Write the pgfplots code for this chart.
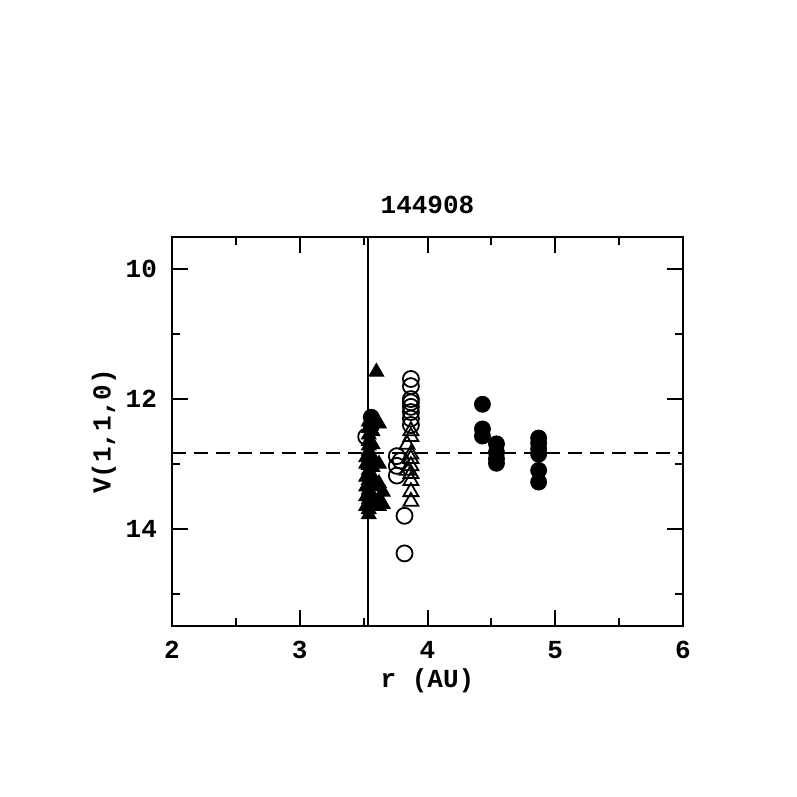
\documentclass[border=0pt]{standalone}
\usepackage{fontspec}
\setmainfont{Liberation Mono}
\usepackage{pgfplots}
\pgfplotsset{compat=1.18}
\begin{document}
\begin{tikzpicture}
\begin{axis}[
  at={(86pt,85.5pt)}, anchor=south west,
  scale only axis, width=255.5pt, height=194.5pt,
  xmin=2, xmax=6, ymin=9.5, ymax=15.5, y dir=reverse,
  xtick={2,3,4,5,6}, minor xtick={2.5,3.5,4.5,5.5},
  ytick={10,12,14}, minor ytick={11,13,15},
  tick align=inside, major tick length=8pt, minor tick length=4pt,
  xtick pos=both, ytick pos=both,
  axis line style={line width=1pt}, every tick/.style={line width=1pt, black},
  tick label style={font=\fontsize{13}{15}\selectfont\bfseries},
  /pgf/number format/assume math mode=true,
  xticklabel style={yshift=-4pt}, yticklabel style={xshift=-4pt},
  xlabel={\fontsize{13}{15}\selectfont\bfseries r (AU)},
  ylabel={\fontsize{13}{15}\selectfont\bfseries V(1,1,0)},
  title={\fontsize{13}{15}\selectfont\bfseries 144908},
  xlabel style={yshift=2pt}, ylabel style={yshift=-2pt},
  title style={yshift=2pt},
  clip=false,
]
% filled triangles
\addplot[only marks, mark=triangle*, mark size=4.3pt, mark options={fill=black, draw=black}] coordinates {
(3.60,11.58)
(3.54,12.35)(3.54,12.45)(3.54,12.55)(3.54,12.65)(3.54,12.72)(3.54,12.80)(3.54,12.88)(3.54,12.95)(3.54,13.02)(3.54,13.10)(3.54,13.18)(3.54,13.25)(3.54,13.32)(3.54,13.40)(3.54,13.48)(3.54,13.55)(3.54,13.62)(3.54,13.70)(3.54,13.78)
(3.52,12.90)(3.52,13.00)(3.52,13.20)(3.52,13.35)(3.52,13.50)(3.52,13.65)
(3.57,12.50)(3.57,12.70)(3.57,12.90)(3.57,13.05)(3.57,13.20)(3.57,13.35)(3.57,13.50)(3.57,13.62)
(3.62,12.38)(3.62,13.00)(3.62,13.30)(3.62,13.55)(3.62,13.65)
(3.65,13.43)(3.65,13.62)
};
% open triangles
\addplot[only marks, mark=triangle, mark size=4.3pt, mark options={draw=black, line width=0.9pt}] coordinates {
(3.87,12.49)(3.87,12.58)(3.87,12.85)(3.87,12.92)(3.87,13.03)(3.87,13.15)(3.87,13.26)(3.87,13.43)(3.87,13.58)
(3.84,12.70)(3.84,13.10)
};
% open circles
\addplot[only marks, mark=o, mark size=4pt, mark options={draw=black, line width=0.9pt}] coordinates {
(3.52,12.58)(3.76,12.88)(3.76,13.03)(3.76,13.18)(3.79,12.95)(3.82,13.80)(3.82,14.38)
(3.87,11.69)(3.87,11.80)(3.87,12.00)(3.87,12.05)(3.87,12.12)(3.87,12.20)(3.87,12.30)(3.87,12.40)
};
% filled circles
\addplot[only marks, mark=*, mark size=4pt, mark options={fill=black, draw=black}] coordinates {
(3.56,12.28)(3.56,12.42)
(4.43,12.08)(4.43,12.46)(4.43,12.57)
(4.54,12.69)(4.54,12.82)(4.54,12.92)(4.54,12.99)
(4.87,12.60)(4.87,12.68)(4.87,12.77)(4.87,12.85)(4.87,13.10)(4.87,13.28)
};
\draw[line width=1pt] (axis cs:3.534,9.5) -- (axis cs:3.534,15.5);
\draw[line width=1pt, dash pattern=on 7pt off 4pt] (axis cs:2,12.83) -- (axis cs:6,12.83);
\end{axis}
\path[use as bounding box] (0,0) rectangle (398.5pt,398.5pt);
\end{tikzpicture}
\end{document}
